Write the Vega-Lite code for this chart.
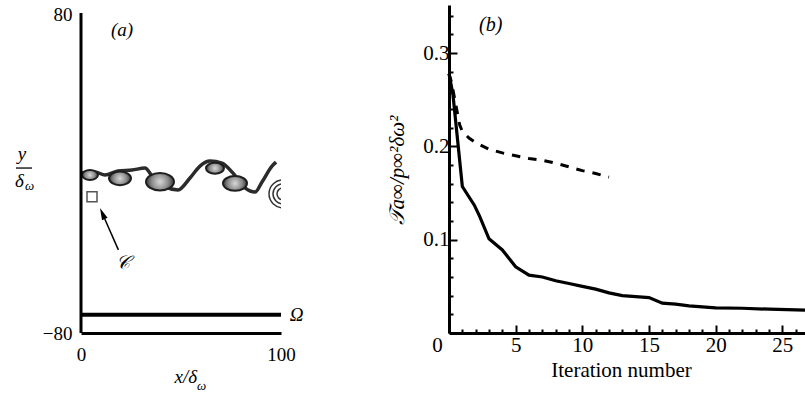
{
  "$schema": "https://vega.github.io/schema/vega-lite/v6.json",
  "padding": {"left": 15, "top": 5, "right": 0, "bottom": 10},
  "bounds": "flush",
  "spacing": 168,
  "config": {
    "view": {"stroke": null},
    "font": "Times New Roman, Liberation Serif, DejaVu Serif, serif",
    "text": {"font": "Times New Roman, Liberation Serif, DejaVu Serif, serif"},
    "axis": {"labelColor": "black", "titleColor": "black", "labelFont": "Times New Roman, Liberation Serif, DejaVu Serif, serif", "titleFont": "Times New Roman, Liberation Serif, DejaVu Serif, serif", "grid": false}
  },
  "datasets": {
    "braid": [
      {"x": 0, "y": 0.5}, {"x": 7, "y": 1.0}, {"x": 12, "y": -0.5}, {"x": 18.5, "y": 1.5},
      {"x": 25.5, "y": 2.0}, {"x": 32, "y": 3.0}, {"x": 35.5, "y": -1.0}, {"x": 42, "y": -6.5},
      {"x": 48.5, "y": -8.0}, {"x": 54.5, "y": -2.0}, {"x": 59.5, "y": 4.0}, {"x": 64.5, "y": 6.5},
      {"x": 70.5, "y": 5.5}, {"x": 75.5, "y": 1.0}, {"x": 82, "y": -7.0}, {"x": 87, "y": -9.1},
      {"x": 90.5, "y": -4.0}, {"x": 95.5, "y": 4.0}, {"x": 97.5, "y": 6.0}
    ],
    "vortices": [
      {"x": 4.5, "y": -0.5, "d": 8},
      {"x": 19.5, "y": -2.2, "d": 11},
      {"x": 39.5, "y": -3.9, "d": 14},
      {"x": 67, "y": 2.9, "d": 9},
      {"x": 77, "y": -4.7, "d": 12}
    ],
    "edgeVortex": [
      {"x": 101, "y": -10, "d": 6},
      {"x": 101, "y": -10, "d": 10},
      {"x": 101, "y": -10, "d": 14}
    ],
    "rulesA": [
      {"x": 0, "x2": 0, "y": -80, "y2": 81}
    ],
    "omegaLine": [
      {"x": 0, "x2": 100, "y": -70.8, "y2": -70.8}
    ],
    "box": [{"x": 5.5, "y": -11.4}],
    "arrow": [{"x": 18.7, "y": -38.2}, {"x": 10.9, "y": -20.4}],
    "arrowHead": [{"x": 10.7, "y": -19.9}],
    "textA": [
      {"x": 20.5, "y": 72.4, "t": "(a)"},
      {"x": 20.75, "y": -45.0, "t": "𝒞"},
      {"x": 107.75, "y": -70.7, "t": "Ω"}
    ],
    "fracBar": [{"x": -32.5, "x2": -24.5, "y": 3.0, "y2": 3.0}],
    "fracTop": [{"x": -29.5, "y": 7.0, "t": "y"}],
    "xTitleA": [{"x": 58, "y": -105.2, "t": "x/δ"}],
    "fracDelta": [{"x": -33, "y": -6.5, "t": "δ"}],
    "fracSub": [{"x": -28, "y": -8.3, "t": "ω"}, {"x": 58, "y": -108.5, "t": "ω"}],
    "solid": [
      {"it": 0, "v": 0.278}, {"it": 0.3, "v": 0.255}, {"it": 1.0, "v": 0.157}, {"it": 1.9, "v": 0.137},
      {"it": 2.3, "v": 0.125}, {"it": 3.0, "v": 0.101}, {"it": 4.0, "v": 0.089}, {"it": 5.0, "v": 0.071},
      {"it": 6.0, "v": 0.062}, {"it": 7.0, "v": 0.060}, {"it": 8, "v": 0.056}, {"it": 9, "v": 0.053},
      {"it": 10, "v": 0.050}, {"it": 11, "v": 0.047}, {"it": 12, "v": 0.043}, {"it": 13, "v": 0.040},
      {"it": 14, "v": 0.039}, {"it": 15, "v": 0.038}, {"it": 16, "v": 0.032}, {"it": 17, "v": 0.031},
      {"it": 18, "v": 0.029}, {"it": 19, "v": 0.028}, {"it": 20, "v": 0.027}, {"it": 22, "v": 0.0265},
      {"it": 24, "v": 0.0255}, {"it": 26.7, "v": 0.0245}
    ],
    "dashed": [
      {"it": 0, "v": 0.278}, {"it": 0.2, "v": 0.268}, {"it": 0.45, "v": 0.249}, {"it": 0.8, "v": 0.223},
      {"it": 1.0, "v": 0.216}, {"it": 1.5, "v": 0.209}, {"it": 2, "v": 0.204}, {"it": 3, "v": 0.197},
      {"it": 4, "v": 0.193}, {"it": 5, "v": 0.190}, {"it": 6, "v": 0.187}, {"it": 7, "v": 0.185},
      {"it": 8, "v": 0.182}, {"it": 9, "v": 0.178}, {"it": 10, "v": 0.174}, {"it": 11, "v": 0.171},
      {"it": 12, "v": 0.167}
    ],
    "textB": [{"it": 3.13, "v": 0.330, "t": "(b)"}]
  },
  "hconcat": [
    {
      "width": 200,
      "height": 328,
      "layer": [
        {
          "data": {"name": "braid"},
          "mark": {"type": "line", "stroke": "#2b2b2b", "strokeWidth": 3.5, "interpolate": "monotone"},
          "encoding": {
            "x": {"field": "x", "type": "quantitative",
              "scale": {"domain": [0, 100], "nice": false, "zero": false},
              "axis": {"values": [0, 100], "ticks": false, "labelPadding": 12, "labelFontSize": 19, "labelFlush": false,
                "domainWidth": 3, "domainColor": "black", "title": null}},
            "y": {"field": "y", "type": "quantitative",
              "scale": {"domain": [-80, 85.03], "nice": false, "zero": false},
              "axis": {"values": [-80, 80], "ticks": false, "domain": false, "labelPadding": 9, "labelFontSize": 19, "labelFlush": false, "title": null}}
          }
        },
        {
          "data": {"name": "vortices"},
          "mark": {"type": "point", "shape": "M-1,0A1,0.62,0,1,1,1,0A1,0.62,0,1,1,-1,0Z", "filled": true, "opacity": 1,
            "fill": {"gradient": "radial", "x1": 0.5, "y1": 0.5, "x2": 0.5, "y2": 0.5, "r1": 0, "r2": 0.5,
              "stops": [{"offset": 0, "color": "#d8d8d8"}, {"offset": 0.6, "color": "#8a8a8a"}, {"offset": 1, "color": "#3a3a3a"}]},
            "stroke": "#1e1e1e", "strokeWidth": 2},
          "encoding": {
            "x": {"field": "x", "type": "quantitative"},
            "y": {"field": "y", "type": "quantitative"},
            "size": {"field": "d", "type": "quantitative", "scale": {"type": "pow", "exponent": 2, "domain": [0, 20], "range": [0, 1600]}, "legend": null}
          }
        },
        {
          "data": {"name": "edgeVortex"},
          "mark": {"type": "point", "shape": "circle", "filled": false, "stroke": "#333333", "strokeWidth": 1.5, "clip": true, "opacity": 1},
          "encoding": {
            "x": {"field": "x", "type": "quantitative"},
            "y": {"field": "y", "type": "quantitative"},
            "size": {"field": "d", "type": "quantitative", "legend": null}
          }
        },
        {
          "data": {"name": "rulesA"},
          "mark": {"type": "rule", "stroke": "black", "strokeWidth": 3},
          "encoding": {
            "x": {"field": "x", "type": "quantitative"}, "x2": {"field": "x2"},
            "y": {"field": "y", "type": "quantitative"}, "y2": {"field": "y2"}
          }
        },
        {
          "data": {"name": "omegaLine"},
          "mark": {"type": "rule", "stroke": "black", "strokeWidth": 4},
          "encoding": {
            "x": {"field": "x", "type": "quantitative"}, "x2": {"field": "x2"},
            "y": {"field": "y", "type": "quantitative"}, "y2": {"field": "y2"}
          }
        },
        {
          "data": {"name": "box"},
          "mark": {"type": "point", "shape": "square", "filled": false, "size": 100, "stroke": "#555555", "strokeWidth": 1.5, "opacity": 1},
          "encoding": {"x": {"field": "x", "type": "quantitative"}, "y": {"field": "y", "type": "quantitative"}}
        },
        {
          "data": {"name": "arrow"},
          "mark": {"type": "line", "stroke": "black", "strokeWidth": 1.5},
          "encoding": {"x": {"field": "x", "type": "quantitative"}, "y": {"field": "y", "type": "quantitative"}}
        },
        {
          "data": {"name": "arrowHead"},
          "mark": {"type": "point", "shape": "M0,-1L-0.5,1L0.5,1Z", "filled": true, "fill": "black", "size": 144, "angle": 336.3, "opacity": 1},
          "encoding": {"x": {"field": "x", "type": "quantitative"}, "y": {"field": "y", "type": "quantitative"}}
        },
        {
          "data": {"name": "textA"},
          "mark": {"type": "text", "fontStyle": "italic", "fontSize": 19, "align": "center", "baseline": "middle", "clip": false},
          "encoding": {"x": {"field": "x", "type": "quantitative"}, "y": {"field": "y", "type": "quantitative"}, "text": {"field": "t"}}
        },
        {
          "data": {"name": "fracBar"},
          "mark": {"type": "rule", "stroke": "black", "strokeWidth": 1.3},
          "encoding": {
            "x": {"field": "x", "type": "quantitative"}, "x2": {"field": "x2"},
            "y": {"field": "y", "type": "quantitative"}, "y2": {"field": "y2"}
          }
        },
        {
          "data": {"name": "fracTop"},
          "mark": {"type": "text", "fontStyle": "italic", "fontSize": 19, "align": "center", "baseline": "alphabetic"},
          "encoding": {"x": {"field": "x", "type": "quantitative"}, "y": {"field": "y", "type": "quantitative"}, "text": {"field": "t"}}
        },
        {
          "data": {"name": "xTitleA"},
          "mark": {"type": "text", "fontStyle": "italic", "fontSize": 19, "align": "right", "baseline": "alphabetic"},
          "encoding": {"x": {"field": "x", "type": "quantitative"}, "y": {"field": "y", "type": "quantitative"}, "text": {"field": "t"}}
        },
        {
          "data": {"name": "fracDelta"},
          "mark": {"type": "text", "fontStyle": "italic", "fontSize": 19, "align": "left", "baseline": "alphabetic"},
          "encoding": {"x": {"field": "x", "type": "quantitative"}, "y": {"field": "y", "type": "quantitative"}, "text": {"field": "t"}}
        },
        {
          "data": {"name": "fracSub"},
          "mark": {"type": "text", "fontStyle": "italic", "fontSize": 13, "align": "left", "baseline": "alphabetic"},
          "encoding": {"x": {"field": "x", "type": "quantitative"}, "y": {"field": "y", "type": "quantitative"}, "text": {"field": "t"}}
        }
      ]
    },
    {
      "width": 356,
      "height": 328,
      "resolve": {"axis": {"x": "independent", "y": "independent"}},
      "layer": [
        {
          "data": {"name": "solid"},
          "mark": {"type": "line", "stroke": "black", "strokeWidth": 3.2},
          "encoding": {
            "x": {"field": "it", "type": "quantitative",
              "scale": {"domain": [0, 26.7], "nice": false, "zero": false},
              "axis": {
                "orient": "bottom",
                "values": [0, 5, 10, 15, 20, 25],
                "format": "d",
                "tickSize": -8,
                "labelOffset": {"condition": {"test": "datum.value === 0", "value": -12}, "value": 0},
                "tickWidth": 2, "tickColor": "black", "domainWidth": 3, "domainColor": "black",
                "labelFontSize": 21, "labelPadding": 9, "labelFlush": false, "labelOverlap": false,
                "title": "Iteration number", "titleFontSize": 21, "titleFontWeight": "normal", "titleX": 172, "titlePadding": 4
              }},
            "y": {"field": "v", "type": "quantitative",
              "scale": {"domain": [0, 0.3515], "nice": false, "zero": false},
              "axis": {
                "orient": "left",
                "values": [0.1, 0.2, 0.3],
                "format": ".1f",
                "tickSize": -8,
                "tickWidth": 2, "tickColor": "black", "domainWidth": 3, "domainColor": "black",
                "labelFontSize": 21, "labelPadding": 8, "labelFlush": false, "labelOverlap": false,
                "title": "𝒯a∞/p∞²δω²", "titleFontSize": 21, "titleFontWeight": "normal", "titleFontStyle": "italic",
                "titleAngle": -90, "titleBaseline": "middle", "titleAlign": "center", "titleX": -52, "titleY": 165
              }}
          }
        },
        {
          "data": {"name": "dashed"},
          "mark": {"type": "line", "stroke": "black", "strokeWidth": 3, "strokeDash": [8.5, 8]},
          "encoding": {
            "x": {"field": "it", "type": "quantitative",
              "scale": {"domain": [0, 26.7], "nice": false, "zero": false},
              "axis": {
                "orient": "bottom",
                "values": [1, 2, 3, 4, 6, 7, 8, 9, 11, 12, 13, 14, 16, 17, 18, 19, 21, 22, 23, 24, 26],
                "tickSize": -4, "tickWidth": 2, "tickColor": "black",
                "labels": false, "domain": false, "title": null
              }},
            "y": {"field": "v", "type": "quantitative",
              "scale": {"domain": [0, 0.3515], "nice": false, "zero": false},
              "axis": {
                "orient": "left",
                "values": [0.02, 0.04, 0.06, 0.08, 0.12, 0.14, 0.16, 0.18, 0.22, 0.24, 0.26, 0.28, 0.32, 0.34],
                "tickSize": -4, "tickWidth": 2, "tickColor": "black",
                "labels": false, "domain": false, "title": null
              }}
          }
        },
        {
          "data": {"name": "textB"},
          "mark": {"type": "text", "fontStyle": "italic", "fontSize": 20, "align": "center", "baseline": "middle"},
          "encoding": {"x": {"field": "it", "type": "quantitative", "axis": null}, "y": {"field": "v", "type": "quantitative", "axis": null}, "text": {"field": "t"}}
        }
      ]
    }
  ]
}
